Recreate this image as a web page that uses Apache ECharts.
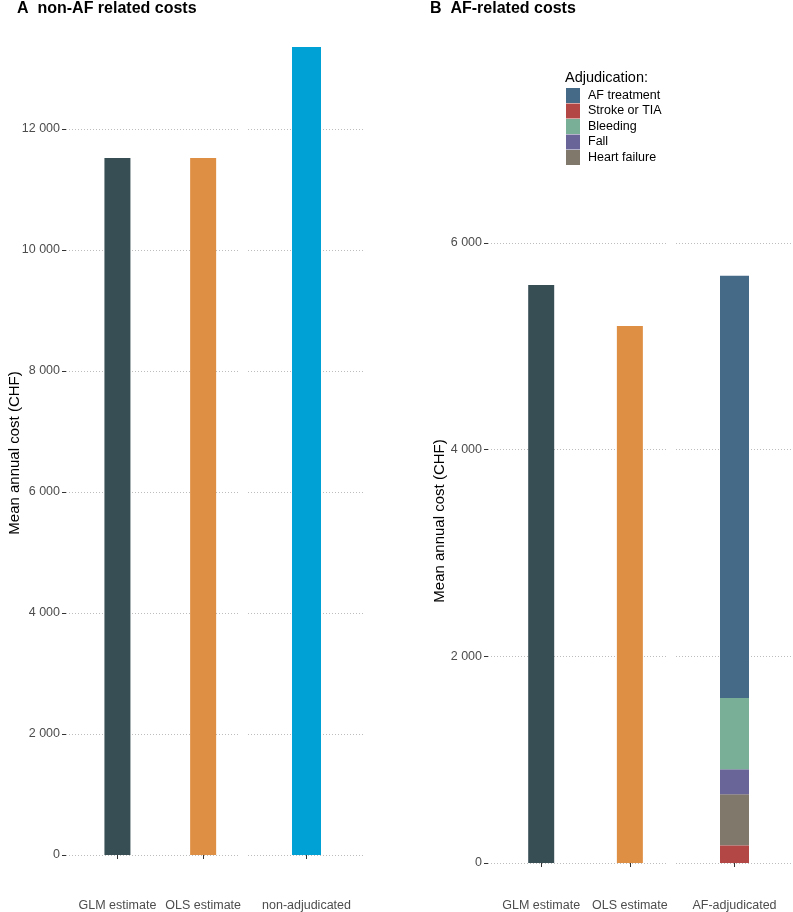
<!DOCTYPE html>
<html>
<head>
<meta charset="utf-8">
<script src="https://cdn.jsdelivr.net/npm/echarts@6/dist/echarts.min.js"></script>
<style>
html,body{margin:0;padding:0;background:#fff;}
#chart{width:793px;height:912px;}
</style>
</head>
<body>
<div id="chart"></div>
<script>
// ---- data ----
const catsA1 = ['GLM estimate', 'OLS estimate'];
const valsA1 = [11520, 11520];
const catsA2 = ['non-adjudicated'];
const valsA2 = [13355];
const catsB1 = ['GLM estimate', 'OLS estimate'];
const valsB1 = [5594, 5197];
const catsB2 = ['AF-adjudicated'];
const adjLegendOrder = ['AF treatment', 'Stroke or TIA', 'Bleeding', 'Fall', 'Heart failure'];
const adjStackOrder = ['Stroke or TIA', 'Heart failure', 'Fall', 'Bleeding', 'AF treatment'];
const adjValues = [171, 494, 242, 690, 4087];
const yTicksA = [0, 2000, 4000, 6000, 8000, 10000, 12000];
const yTicksB = [0, 2000, 4000, 6000];

// ---- styles ----
const colorsA1 = ['#374E55', '#DF8F44'];
const colorsA2 = ['#00A1D5'];
const colorsB1 = ['#374E55', '#DF8F44'];
const adjColors = {
  'AF treatment': '#456A87',
  'Stroke or TIA': '#B24745',
  'Bleeding': '#79AF97',
  'Fall': '#6A6599',
  'Heart failure': '#80796B'
};
const FF = '"Liberation Sans", Arial, Helvetica, sans-serif';
const fmt = v => String(v).replace(/\B(?=(\d{3})+(?!\d))/g, ' ');
const gridLine = {show: true, lineStyle: {type: [1, 2], color: '#bdbdbd', width: 1}};
const tickStyle = {length: 4, lineStyle: {color: '#333'}};
const xLabelStyle = {margin: 6, fontSize: 12.5, color: '#4d4d4d', fontFamily: FF};

function yAxis(gi, max, ticks, showLabels) {
  return {
    gridIndex: gi, type: 'value', min: 0, max: max, interval: 2000,
    axisLine: {show: false},
    axisTick: Object.assign({show: showLabels, customValues: ticks}, tickStyle),
    axisLabel: {show: showLabels, customValues: ticks, margin: 6, fontSize: 12.5, color: '#4d4d4d',
      fontFamily: FF, formatter: fmt},
    splitLine: gridLine
  };
}
// facet with two categories: value axis so the bars sit as in the original facet
function xAxisValue(gi, max, cats, offset) {
  const vals = cats.map((c, i) => i + 1);
  return {
    gridIndex: gi, type: 'value', min: 0.4, max: max, offset: offset, position: 'bottom',
    axisLine: {show: false},
    axisTick: Object.assign({show: true, customValues: vals}, tickStyle),
    axisLabel: Object.assign({customValues: vals, formatter: v => cats[Math.round(v) - 1] || ''}, xLabelStyle),
    splitLine: {show: false}
  };
}
// facet with one category
function xAxisCat(gi, cats, offset) {
  return {
    gridIndex: gi, type: 'category', data: cats, boundaryGap: true, offset: offset, position: 'bottom',
    axisLine: {show: false},
    axisTick: Object.assign({show: true, alignWithLabel: true}, tickStyle),
    axisLabel: Object.assign({}, xLabelStyle),
    splitLine: {show: false}
  };
}

const topB = 150;
const maxA = 14050;
const maxB = (863 - topB) / 0.10333;

const series = [
  {
    type: 'bar', xAxisIndex: 0, yAxisIndex: 0, barWidth: 26,
    data: catsA1.map((c, i) => ({value: [i + 1, valsA1[i]], itemStyle: {color: colorsA1[i]}}))
  },
  {
    type: 'bar', xAxisIndex: 1, yAxisIndex: 1, barWidth: 29,
    data: valsA2.map((v, i) => ({value: v, itemStyle: {color: colorsA2[i]}}))
  },
  {
    type: 'bar', xAxisIndex: 2, yAxisIndex: 2, barWidth: 26,
    data: catsB1.map((c, i) => ({value: [i + 1, valsB1[i]], itemStyle: {color: colorsB1[i]}}))
  }
];
adjStackOrder.forEach((name, i) => {
  series.push({
    type: 'bar', name: name, stack: 'adj', xAxisIndex: 3, yAxisIndex: 3, barWidth: 29,
    itemStyle: {color: adjColors[name]},
    data: [adjValues[i]]
  });
});

const option = {
  animation: false,
  backgroundColor: '#fff',
  grid: [
    {left: 66, width: 174, top: 5, height: 850},
    {left: 248, width: 117, top: 5, height: 850},
    {left: 488, width: 180, top: topB, height: 863 - topB},
    {left: 676, width: 117, top: topB, height: 863 - topB}
  ],
  xAxis: [
    xAxisValue(0, 2.43, catsA1, 38),
    xAxisCat(1, catsA2, 38),
    xAxisValue(2, 2.43, catsB1, 30),
    xAxisCat(3, catsB2, 30)
  ],
  yAxis: [
    yAxis(0, maxA, yTicksA, true),
    yAxis(1, maxA, yTicksA, false),
    yAxis(2, maxB, yTicksB, true),
    yAxis(3, maxB, yTicksB, false)
  ],
  legend: {
    orient: 'vertical', left: 566, top: 88, padding: 0, itemWidth: 14, itemHeight: 15, itemGap: 0.5,
    icon: 'rect', selectedMode: false, data: adjLegendOrder,
    textStyle: {fontSize: 12.5, color: '#000', fontFamily: FF, padding: [0, 0, 0, 3]}
  },
  graphic: [
    {type: 'text', left: 17, top: 1, style: {text: 'A  non-AF related costs', fontSize: 16, fontWeight: 'bold', fill: '#000', fontFamily: FF}},
    {type: 'text', left: 430, top: 1, style: {text: 'B  AF-related costs', fontSize: 16, fontWeight: 'bold', fill: '#000', fontFamily: FF}},
    {type: 'text', left: 565, top: 70, style: {text: 'Adjudication:', fontSize: 14.5, fill: '#000', fontFamily: FF}},
    {type: 'text', x: 15, y: 453, rotation: Math.PI / 2, style: {text: 'Mean annual cost (CHF)', fontSize: 15, fill: '#000', fontFamily: FF, align: 'center', verticalAlign: 'middle'}},
    {type: 'text', x: 440, y: 521, rotation: Math.PI / 2, style: {text: 'Mean annual cost (CHF)', fontSize: 15, fill: '#000', fontFamily: FF, align: 'center', verticalAlign: 'middle'}}
  ],
  series: series
};

const chart = echarts.init(document.getElementById('chart'), null, {renderer: 'canvas'});
chart.setOption(option);
</script>
</body>
</html>
